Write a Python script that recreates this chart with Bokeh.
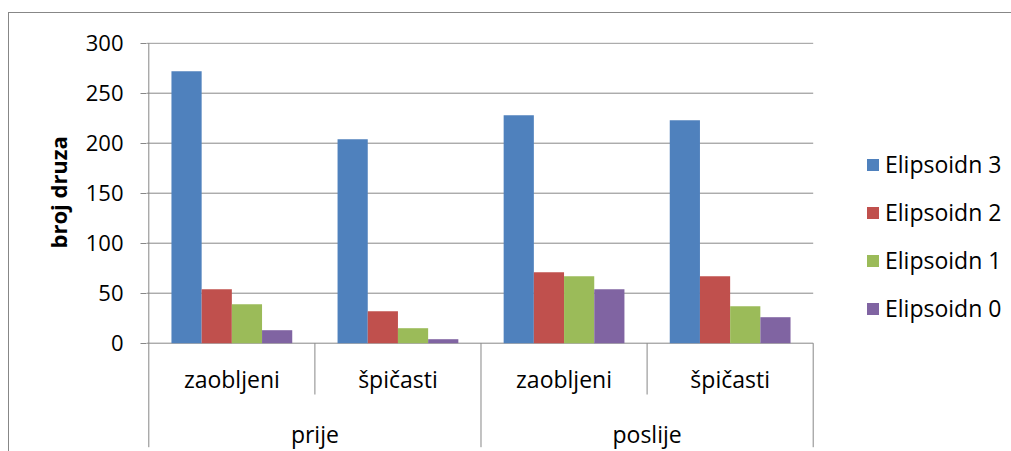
from bokeh.plotting import figure
from bokeh.models import Range1d, FixedTicker, Legend, LegendItem, ColumnDataSource, Title
from bokeh.core.properties import value
from bokeh.embed import file_html
from bokeh.resources import INLINE

# ---- data ----
groups = ["prije", "poslije"]
categories = ["zaobljeni", "špičasti"]
series = ["Elipsoidn 3", "Elipsoidn 2", "Elipsoidn 1", "Elipsoidn 0"]
elipsoidn3 = [272, 204, 228, 223]
elipsoidn2 = [54, 32, 71, 67]
elipsoidn1 = [39, 15, 67, 37]
elipsoidn0 = [13, 4, 54, 26]
values = [elipsoidn3, elipsoidn2, elipsoidn1, elipsoidn0]
colors = ["#4F81BD", "#C0504D", "#9BBB59", "#8064A2"]
y_ticks = [0, 50, 100, 150, 200, 250, 300]
y_title = "broj druza"

FONT = "Open Sans"
GRAY = "#878787"

n_cat = len(groups) * len(categories)
x_start, x_end = -0.01385, 5.1939
border_css = {
    "background-image": "linear-gradient(#878787, #878787), linear-gradient(#878787, #878787)",
    "background-size": "1px 100%, 100% 1px",
    "background-position": "8px 12px, 8px 12px",
    "background-repeat": "no-repeat",
}
p = figure(width=1011, height=451, output_backend="svg", toolbar_location=None,
           x_axis_location=None, y_axis_location="left",
           x_range=Range1d(x_start, x_end), y_range=Range1d(-108.3, 300.7),
           min_border_left=146, min_border_right=0, min_border_top=42, min_border_bottom=0,
           outline_line_color=None, background_fill_color="white", border_fill_color=None,
           styles=border_css)

# grid (drawn over the category span only)
p.xgrid.visible = False
p.ygrid.visible = False
p.segment(x0=[x_start] * len(y_ticks), y0=y_ticks, x1=[n_cat] * len(y_ticks), y1=y_ticks,
          line_color=GRAY, line_width=1)

# y axis
ax = p.yaxis[0]
ax.ticker = FixedTicker(ticks=y_ticks)
ax.bounds = (y_ticks[0], y_ticks[-1])
ax.axis_line_color = None
ax.major_tick_line_color = GRAY
ax.major_tick_out = 6
ax.major_tick_in = 0
ax.minor_tick_line_color = None
ax.major_label_standoff = 17
ax.major_label_text_font = FONT
ax.major_label_text_font_size = "22px"
ax.major_label_text_color = "black"

# y title
p.add_layout(Title(text=y_title, align="left", offset=203, standoff=19,
                   text_font=FONT, text_font_style="bold", text_font_size="22px",
                   text_color="black"), "left")

# bars
w = 0.1818
renderers = []
for k, (name, vals, col) in enumerate(zip(series, values, colors)):
    xs = [i + 0.5 + (k - 1.5) * w for i in range(n_cat)]
    src = ColumnDataSource(dict(x=xs, top=vals))
    r = p.vbar(x="x", top="top", bottom=0, width=w, source=src,
               fill_color=col, line_color=None)
    renderers.append(r)

# category axis (Excel-like multi-level)
bounds_x = list(range(n_cat + 1))
outer = [-104 if b % len(categories) == 0 else -51.3 for b in bounds_x]
p.segment(x0=bounds_x, y0=[0] * len(bounds_x), x1=bounds_x, y1=outer,
          line_color=GRAY, line_width=1)
p.segment(x0=[0], y0=[0], x1=[0], y1=[y_ticks[-1]], line_color=GRAY, line_width=1)

cat_labels = [c for g in groups for c in categories]
p.text(x=[i + 0.5 for i in range(n_cat)], y=[-35.5] * n_cat, text=cat_labels,
       text_align="center", text_baseline="alphabetic",
       text_font=value(FONT), text_font_size="23px", text_color="black")
p.text(x=[gi * len(categories) + len(categories) / 2 for gi in range(len(groups))],
       y=[-90.5] * len(groups), text=groups,
       text_align="center", text_baseline="alphabetic",
       text_font=value(FONT), text_font_size="23px", text_color="black")

# legend
legend = Legend(items=[LegendItem(label=s, renderers=[r]) for s, r in zip(series, renderers)],
                location=(719, 127), orientation="vertical",
                glyph_width=15, glyph_height=15, label_standoff=5,
                label_height=32, spacing=16, padding=0, margin=0,
                border_line_color=None, background_fill_alpha=0,
                label_text_font=FONT, label_text_font_size="23px", label_text_color="black")
p.add_layout(legend)

open("out.html", "w").write(file_html(p, INLINE))
